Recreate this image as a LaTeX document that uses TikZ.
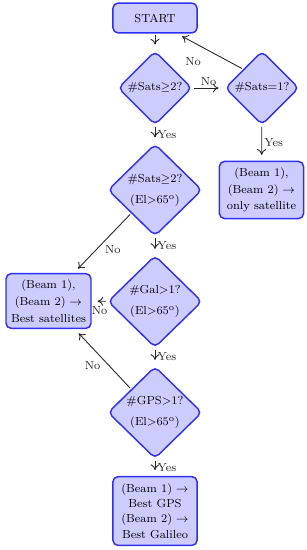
\documentclass[tikz,border=0pt]{standalone}
\usepackage{amsmath}
\usepackage{xcolor}
\usepackage{tikz}
\usetikzlibrary{arrows.meta,calc,positioning,shapes.geometric}
\definecolor{fedge}{HTML}{3030F0}
\definecolor{ffill}{HTML}{CCCCFF}
\tikzset{
  >={To[length=1.4mm,width=2.2mm]},
  fbox/.style={rounded corners=3.5pt, draw=fedge, fill=ffill, line width=1pt,
               align=center, inner sep=2pt, font=\footnotesize, minimum width=2.03cm},
  fdec/.style={diamond, aspect=1, rounded corners=3.5pt, draw=fedge, fill=ffill,
               line width=1pt, align=center, inner sep=0pt, font=\footnotesize},
  fsmall/.style={fdec, minimum width=1.78cm, minimum height=1.78cm},
  fbig/.style={fdec, minimum width=2.27cm, minimum height=2.22cm},
  fflow/.style={->, black!85, line width=0.6pt, shorten <=1pt, shorten >=4pt},
  flbl/.style={black!85, font=\footnotesize, inner sep=1.5pt},
}

\begin{document}
\begin{tikzpicture}[x=0.02413cm,y=-0.02413cm]
  \useasboundingbox (0,0) rectangle (307,550);

  % nodos
  \node[fbox, minimum height=0.72cm] (start) at (155,18) {START};
  \node[fsmall] (nsat) at (155,88) {\#Sats$\geq$2?};
  \node[fsmall] (one) at (262,88) {\#Sats$=$1?};
  \node[fbox, minimum height=1.38cm] (only) at (261.5,190)
    {(Beam 1),\\[2pt] (Beam 2) $\rightarrow$\\[2pt] only satellite};
  \node[fbig] (nel) at (155,190) {\#Sats$\geq$2?\\[5pt] (El$>$65\textsuperscript{o})};
  \node[fbox, minimum width=2.05cm, minimum height=1.32cm] (best) at (48.5,301)
    {(Beam 1),\\[2pt] (Beam 2) $\rightarrow$\\[2pt] Best satellites};
  \node[fbig] (gal) at (155,301.5) {\#Gal$>$1?\\[5pt] (El$>$65\textsuperscript{o})};
  \node[fbig] (gps) at (155,412.5) {\#GPS$>$1?\\[5pt] (El$>$65\textsuperscript{o})};
  \node[fbox, minimum height=1.66cm] (split) at (155,511)
    {(Beam 1) $\rightarrow$\\[1pt] Best GPS\\[1pt] (Beam 2) $\rightarrow$\\[1pt] Best Galileo};

  % ligacoes
  \draw[fflow] (start) -- (nsat);
  \draw[fflow] (nsat) -- node[flbl, above] {No} (one);
  \draw[fflow] (one.north west) -- node[flbl, below left, pos=0.6, yshift=-5pt] {No}
    ([xshift=-0.5cm]start.south east);
  \draw[fflow] (one) -- node[flbl, right] {Yes} (only);
  \draw[fflow] (nsat) -- node[flbl, right] {Yes} (nel);
  \draw[fflow] (nel.south west) -- node[flbl, below right, pos=0.5] {No}
    ([xshift=-0.43cm]best.north east);
  \draw[fflow] (nel) -- node[flbl, right] {Yes} (gal);
  \draw[fflow] (gal) -- node[flbl, below, yshift=-2pt] {No} (best);
  \draw[fflow] (gal) -- node[flbl, right] {Yes} (gps);
  \draw[fflow] (gps.north west) -- node[flbl, below left, pos=0.5] {No}
    ([xshift=-0.41cm]best.south east);
  \draw[fflow] (gps) -- node[flbl, right] {Yes} (split);

\end{tikzpicture}
\end{document}
